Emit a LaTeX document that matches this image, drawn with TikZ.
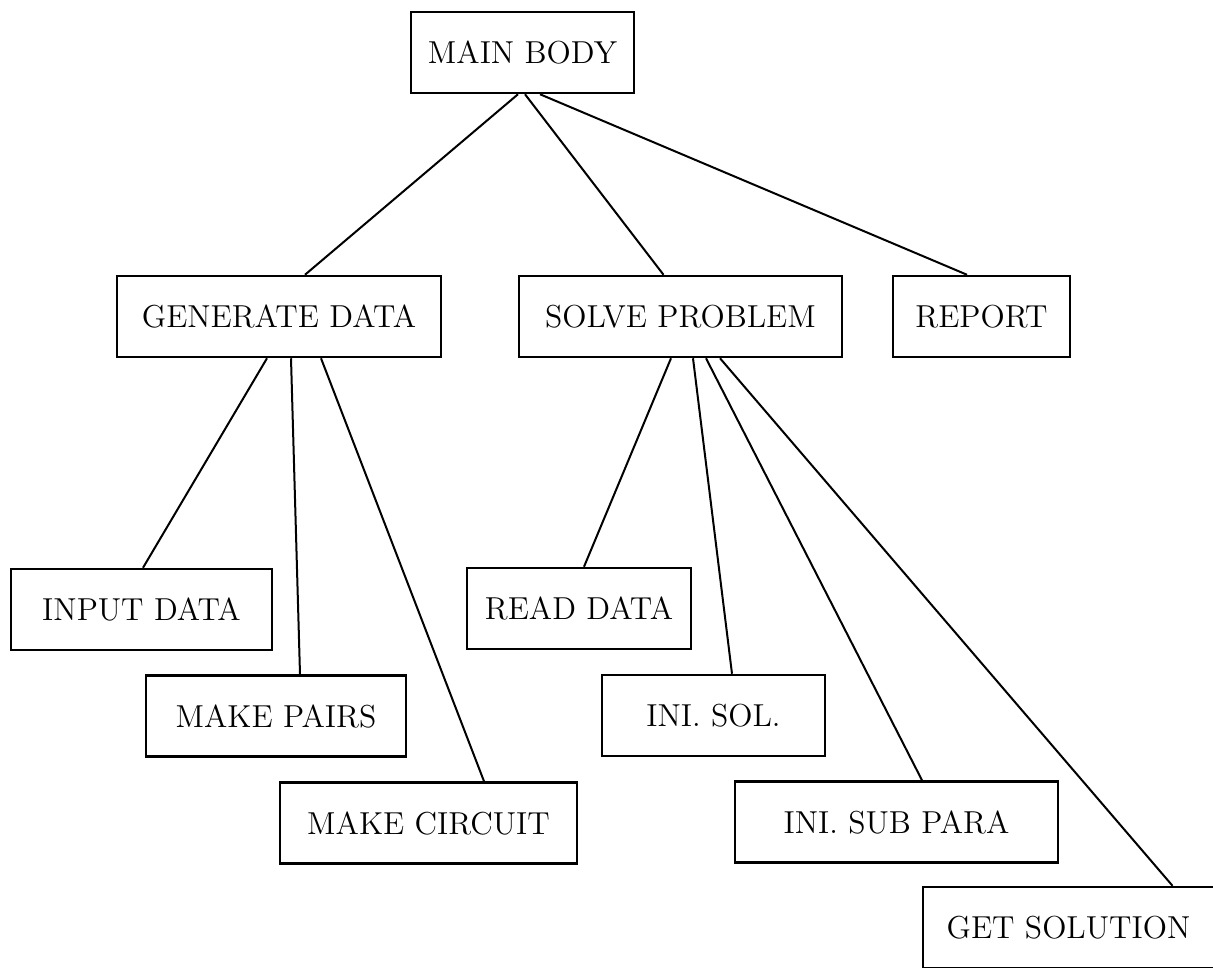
\documentclass[tikz,border=0pt]{standalone}
\usetikzlibrary{calc}
\begin{document}
\begin{tikzpicture}[x=0.4pt,y=-0.4pt,
  box/.style={draw,line width=1pt,inner sep=0pt,minimum height=32.4pt,font=\fontsize{12.7}{15}\selectfont},
  link/.style={line width=0.8pt}]
\fill[white] (0,0) rectangle (1213,967);
\useasboundingbox (0,0) rectangle (1213,967);
\node[box,minimum width=89.2pt] (main) at (522.5,52.5) {MAIN BODY};
\node[box,minimum width=129.6pt] (gen) at (279,316.5) {GENERATE DATA};
\node[box,minimum width=129.2pt] (solve) at (680.5,316.5) {SOLVE PROBLEM};
\node[box,minimum width=70.8pt] (report) at (981.5,316.5) {REPORT};
\node[box,minimum width=104.4pt] (input) at (141.5,609.5) {INPUT DATA};
\node[box,minimum width=104pt] (pairs) at (276,716) {MAKE PAIRS};
\node[box,minimum width=118.8pt] (circuit) at (428.5,823) {MAKE CIRCUIT};
\node[box,minimum width=89.6pt] (read) at (579,608.5) {READ DATA};
\node[box,minimum width=89.2pt] (inisol) at (713.5,715.5) {INI. SOL.};
\node[box,minimum width=129.2pt] (inisub) at (896.5,822) {INI. SUB PARA};
\node[box,minimum width=116.4pt] (getsol) at (1068.5,927.5) {GET SOLUTION};
\draw[link] ($(main.south)+(-4.5,0)$) -- ($(gen.north)+(26,0)$);
\draw[link] ($(main.south)+(2.5,0)$) -- ($(solve.north)+(-17,0)$);
\draw[link] ($(main.south)+(17.5,0)$) -- ($(report.north)+(-14.5,0)$);
\draw[link] ($(gen.south)+(-12,0)$) -- ($(input.north)+(1.5,0)$);
\draw[link] ($(gen.south)+(12,0)$) -- ($(pairs.north)+(24,0)$);
\draw[link] ($(gen.south)+(42,0)$) -- ($(circuit.north)+(55.5,0)$);
\draw[link] ($(solve.south)+(-9.5,0)$) -- ($(read.north)+(5,0)$);
\draw[link] ($(solve.south)+(12.5,0)$) -- ($(inisol.north)+(18.5,0)$);
\draw[link] ($(solve.south)+(25.5,0)$) -- ($(inisub.north)+(25.5,0)$);
\draw[link] ($(solve.south)+(39.5,0)$) -- ($(getsol.north)+(104,0)$);
\end{tikzpicture}
\end{document}
